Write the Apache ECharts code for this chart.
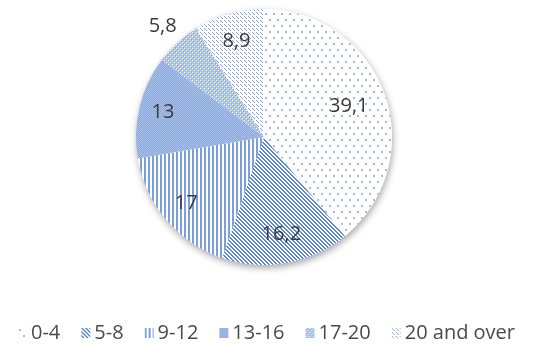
<!DOCTYPE html>
<html>
<head>
<meta charset="utf-8">
<style>
  html, body { margin: 0; padding: 0; background: #fff; }
  #chart { width: 533px; height: 347px; }
</style>
<script src="https://cdn.jsdelivr.net/npm/echarts@6/dist/echarts.min.js"></script>
</head>
<body>
<div id="chart"></div>
<script>
// Age groups and their shares (%)
var categories = ['0-4', '5-8', '9-12', '13-16', '17-20', '20 and over'];
var shares = [39.1, 16.2, 17, 13, 5.8, 8.9];
var shareLabels = ['39,1', '16,2', '17', '13', '5,8', '8,9'];

// --- fill patterns (small canvas tiles) ---
function tile(w, h, bg, draw) {
  var c = document.createElement('canvas');
  c.width = w; c.height = h;
  var g = c.getContext('2d');
  g.fillStyle = bg; g.fillRect(0, 0, w, h);
  draw(g);
  return { image: c, repeat: 'repeat' };
}
var BLUE = '#7b9fdc';
var patterns = [
  // sparse dots
  tile(8, 12, '#ffffff', function (g) {
    g.fillStyle = '#a3bbe6';
    g.fillRect(1, 1, 2, 2); g.fillRect(5, 7, 2, 2);
  }),
  // dense downward diagonals
  tile(4, 4, '#ffffff', function (g) {
    g.fillStyle = '#5d88cf';
    for (var y = 0; y < 4; y++) for (var x = 0; x < 4; x++) {
      var m = ((x - y) % 4 + 4) % 4;
      if (m === 0 || m === 1) g.fillRect(x, y, 1, 1);
    }
  }),
  // vertical lines
  tile(4, 4, '#ffffff', function (g) {
    g.fillStyle = BLUE;
    g.fillRect(0, 0, 2, 4);
  }),
  // fine 50% grid
  tile(2, 2, '#8eabdd', function (g) {
    g.fillStyle = '#a6bde6';
    g.fillRect(0, 0, 1, 1); g.fillRect(1, 1, 1, 1);
  }),
  // small checks
  tile(4, 4, '#b0c5ea', function (g) {
    g.fillStyle = '#ffffff';
    g.fillRect(0, 0, 1, 1); g.fillRect(2, 2, 1, 1);
    g.fillStyle = '#86a5db';
    g.fillRect(1, 1, 1, 1); g.fillRect(3, 3, 1, 1);
  }),
  // dashed downward diagonals
  tile(8, 8, '#ffffff', function (g) {
    g.fillStyle = '#86a7de';
    for (var y = 0; y < 8; y++) {
      if (y % 4 === 3) continue;
      [0, 4].forEach(function (k) {
        var x = (y + k) % 8;
        g.fillRect(x, y, 1, 1);
      });
    }
  })
];

var CX = 264, CY = 137, R = 128;
var total = shares.reduce(function (a, b) { return a + b; }, 0);
// label distance from centre per slice
var labelDist = [90, 99, 102, 104, 150, 100];

function midAngle(i) {
  var before = 0;
  for (var k = 0; k < i; k++) before += shares[k];
  return (before + shares[i] / 2) / total * 2 * Math.PI;
}

var chart = echarts.init(document.getElementById('chart'), null, { renderer: 'canvas' });
chart.setOption({
  animation: false,
  backgroundColor: '#ffffff',
  legend: {
    data: categories,
    top: 318,
    left: 'center',
    icon: 'rect',
    itemWidth: 9,
    itemHeight: 10,
    itemGap: 21,
    textStyle: { fontFamily: 'Open Sans', fontSize: 20, color: '#4a4a4a', padding: [0, 0, 0, -1] }
  },
  series: [
    {
      // backdrop disc carrying the soft drop shadow
      type: 'pie',
      silent: true,
      z: 1,
      center: [CX, CY],
      radius: R,
      label: { show: false },
      labelLine: { show: false },
      itemStyle: {
        color: '#ffffff',
        shadowBlur: 7,
        shadowColor: 'rgba(0,0,0,0.35)',
        shadowOffsetX: 1,
        shadowOffsetY: 3
      },
      data: [{ value: 1, name: '' }]
    },
    {
      type: 'pie',
      z: 2,
      center: [CX, CY],
      radius: R,
      startAngle: 90,
      clockwise: true,
      avoidLabelOverlap: false,
      itemStyle: { borderWidth: 0 },
      label: {
        show: true,
        position: 'inside',
        fontFamily: 'Open Sans',
        fontSize: 20,
        color: '#3a3a3a',
        formatter: function (p) { return shareLabels[p.dataIndex]; }
      },
      labelLine: { show: false },
      labelLayout: function (p) {
        var a = midAngle(p.dataIndex);
        var d = labelDist[p.dataIndex];
        return {
          x: CX + d * Math.sin(a),
          y: CY - d * Math.cos(a),
          align: 'center',
          verticalAlign: 'middle'
        };
      },
      emphasis: { disabled: true },
      data: categories.map(function (c, i) {
        return { name: c, value: shares[i], itemStyle: { color: patterns[i] } };
      })
    }
  ]
});
</script>
</body>
</html>
